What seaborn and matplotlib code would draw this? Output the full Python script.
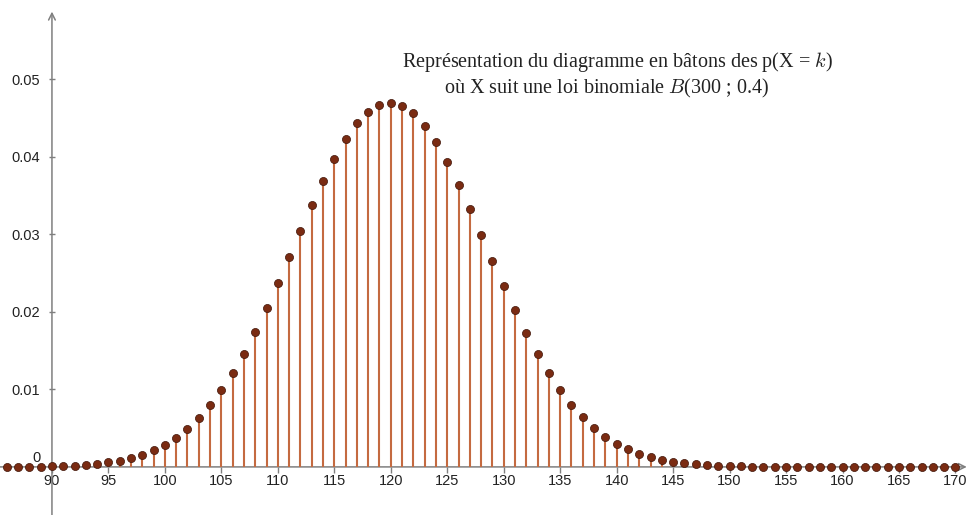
import matplotlib
matplotlib.use("Agg")
import matplotlib.pyplot as plt
import seaborn as sns
import pandas as pd

k_values = list(range(86, 171))
probabilities = [
    0.00001, 0.00002, 0.00003, 0.00005, 0.00008, 0.00012, 0.00018, 0.00027,
    0.00039, 0.00057, 0.00081, 0.00113, 0.00156, 0.00213, 0.00285, 0.00377,
    0.00490, 0.00628, 0.00793, 0.00986, 0.01210, 0.01462, 0.01742, 0.02045,
    0.02368, 0.02702, 0.03040, 0.03371, 0.03687, 0.03975, 0.04227, 0.04431,
    0.04582, 0.04671, 0.04697, 0.04659, 0.04557, 0.04396, 0.04184, 0.03927,
    0.03636, 0.03321, 0.02992, 0.02660, 0.02333, 0.02018, 0.01722, 0.01450,
    0.01205, 0.00988, 0.00799, 0.00638, 0.00502, 0.00390, 0.00299, 0.00226,
    0.00169, 0.00124, 0.00090, 0.00065, 0.00046, 0.00032, 0.00022, 0.00015,
    0.00010, 0.00007, 0.00004, 0.00003, 0.00002, 0.00001, 0.00001, 0.00000,
    0.00000, 0.00000, 0.00000, 0.00000, 0.00000, 0.00000, 0.00000, 0.00000,
    0.00000, 0.00000, 0.00000, 0.00000, 0.00000,
]
x_ticks = list(range(90, 171, 5))
y_ticks = [0.01, 0.02, 0.03, 0.04, 0.05]
y_tick_labels = ["0.01", "0.02", "0.03", "0.04", "0.05"]
title_line1 = r"Représentation du diagramme en bâtons des p(X = $k$)"
title_line2 = r"où X suit une loi binomiale $B$(300 ; 0.4)"

df = pd.DataFrame({"k": k_values, "p": probabilities})

sns.set_theme(style="white")
plt.rcParams["font.family"] = ["Liberation Sans", "DejaVu Sans"]
plt.rcParams["mathtext.fontset"] = "cm"

fig = plt.figure(figsize=(9.69, 5.15), dpi=100)
ax = fig.add_axes([0, 0, 1, 1])
ax.set_xlim(85.4, 171.2)
ax.set_ylim(-0.0062, 0.0602)

axis_color = "#7f7f7f"
stem_color = "#c46a40"
dot_color = "#7a2b12"

# stems
ax.vlines(df["k"], 0, df["p"], color=stem_color, lw=1.5, zorder=2)

# axes with arrows
ax.annotate("", xy=(90, 0.0587), xytext=(90, -0.0062),
            arrowprops=dict(arrowstyle="->", color=axis_color, lw=1.1,
                            shrinkA=0, shrinkB=0, mutation_scale=12), zorder=1)
ax.annotate("", xy=(171.0, 0), xytext=(85.4, 0),
            arrowprops=dict(arrowstyle="->", color=axis_color, lw=1.1,
                            shrinkA=0, shrinkB=0, mutation_scale=12), zorder=1)

# dots
sns.scatterplot(data=df, x="k", y="p", ax=ax, s=34, color=dot_color,
                edgecolor="#3f1307", linewidth=0.5, zorder=3, legend=False)

for s in ax.spines.values():
    s.set_visible(False)
ax.spines["left"].set_position(("data", 90))
ax.spines["bottom"].set_position(("data", 0))

ax.set_xticks(x_ticks)
ax.set_xticklabels([str(t) for t in x_ticks])
ax.set_yticks(y_ticks)
ax.set_yticklabels(y_tick_labels)
ax.tick_params(axis="x", direction="out", length=4, width=1, color=axis_color,
               labelsize=10.5, labelcolor="#222222", pad=1, bottom=True)
ax.tick_params(axis="y", direction="inout", length=5, width=1, color=axis_color,
               labelsize=10.5, labelcolor="#222222", pad=6, left=True)
ax.set_xlabel("")
ax.set_ylabel("")
ax.text(89.0, 0.0002, "0", fontsize=10.5, color="#222222", ha="right", va="bottom")

ax.text(617 / 969, 1 - 62 / 515, title_line1, transform=fig.transFigure,
        ha="center", va="center", fontsize=14.5, color="#222222",
        family=["Liberation Serif", "DejaVu Serif"])
ax.text(607 / 969, 1 - 88 / 515, title_line2, transform=fig.transFigure,
        ha="center", va="center", fontsize=14.5, color="#222222",
        family=["Liberation Serif", "DejaVu Serif"])

fig.savefig("out.png", dpi=100)
